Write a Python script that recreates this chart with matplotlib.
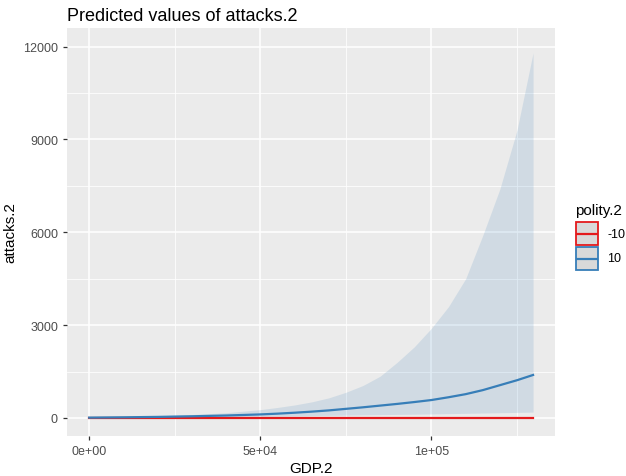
import numpy as np
import matplotlib.pyplot as plt
from matplotlib.patches import Rectangle
from matplotlib.lines import Line2D

plt.rcParams['font.family'] = ['Liberation Sans', 'DejaVu Sans']

gdp = [0, 10000, 20000, 30000, 40000, 50000, 55000, 60000, 65000, 70000,
       75000, 80000, 85000, 90000, 95000, 100000, 105000, 110000, 115000,
       120000, 125000, 129700]

# polity.2 = 10
pred_hi = [12, 22, 35, 55, 80, 115, 140, 170, 205, 245, 295, 345, 400, 455,
           515, 580, 670, 770, 900, 1060, 1220, 1390]
upper_hi = [20, 40, 70, 110, 170, 270, 340, 420, 520, 650, 830, 1050, 1350,
            1800, 2300, 2900, 3600, 4500, 5900, 7400, 9300, 11800]
lower_hi = [6, 12, 20, 30, 40, 55, 62, 70, 78, 85, 92, 100, 108, 115, 122,
            130, 140, 150, 160, 170, 180, 190]

# polity.2 = -10
pred_lo = [1] * len(gdp)
upper_lo = [4] * len(gdp)
lower_lo = [0] * len(gdp)

levels = ['-10', '10']
red = '#E41A1C'
blue = '#377EB8'

W, H = 626, 477
fig = plt.figure(figsize=(W / 100, H / 100), dpi=100)
ax = fig.add_axes([0.107, 0.084, 0.78, 0.855])
ax.set_facecolor('#EBEBEB')

ax.fill_between(gdp, lower_lo, upper_lo, color=red, alpha=0.15, lw=0)
ax.fill_between(gdp, lower_hi, upper_hi, color=blue, alpha=0.15, lw=0)
ax.plot(gdp, pred_lo, color=red, lw=1.6)
ax.plot(gdp, pred_hi, color=blue, lw=1.6)

ax.set_xlim(-6485, 136185)
ax.set_ylim(-580, 12600)

xt = [0, 50000, 100000]
ax.set_xticks(xt)
ax.set_xticklabels(['0e+00', '5e+04', '1e+05'])
ax.set_xticks([25000, 75000, 125000], minor=True)
yt = [0, 3000, 6000, 9000, 12000]
ax.set_yticks(yt)
ax.set_yticklabels([str(v) for v in yt])
ax.set_yticks([1500, 4500, 7500, 10500], minor=True)

ax.grid(which='major', color='white', lw=1.1)
ax.grid(which='minor', color='white', lw=0.55)
ax.set_axisbelow(True)
for s in ax.spines.values():
    s.set_visible(False)
ax.tick_params(which='major', length=3, width=0.9, color='#333333',
               labelcolor='#4D4D4D', labelsize=9)
ax.tick_params(which='minor', length=0)

ax.set_xlabel('GDP.2', fontsize=11, labelpad=3)
ax.set_ylabel('attacks.2', fontsize=11, labelpad=4)
fig.text(0.107, 0.965, 'Predicted values of attacks.2', fontsize=13, va='center', ha='left')

# legend drawn by hand, in pixel positions
def fx(px):
    return px / W

def fy(py):
    return 1 - py / H

fig.text(fx(575), fy(211), 'polity.2', fontsize=11, va='center', ha='left')
for i, (lab, c) in enumerate(zip(levels, [red, blue])):
    top = 223 + i * 25
    fig.patches.append(Rectangle((fx(576), fy(top + 23)), fx(22), 23 / H,
                                 transform=fig.transFigure, facecolor='#D9D9D9',
                                 edgecolor=c, lw=1.3))
    mid = fy(top + 11.5)
    fig.lines.append(Line2D([fx(577), fx(597)], [mid, mid], color=c, lw=1.6,
                            transform=fig.transFigure))
    fig.text(fx(607), mid, lab, fontsize=9, va='center', ha='left')

fig.savefig('out.png', dpi=100)
